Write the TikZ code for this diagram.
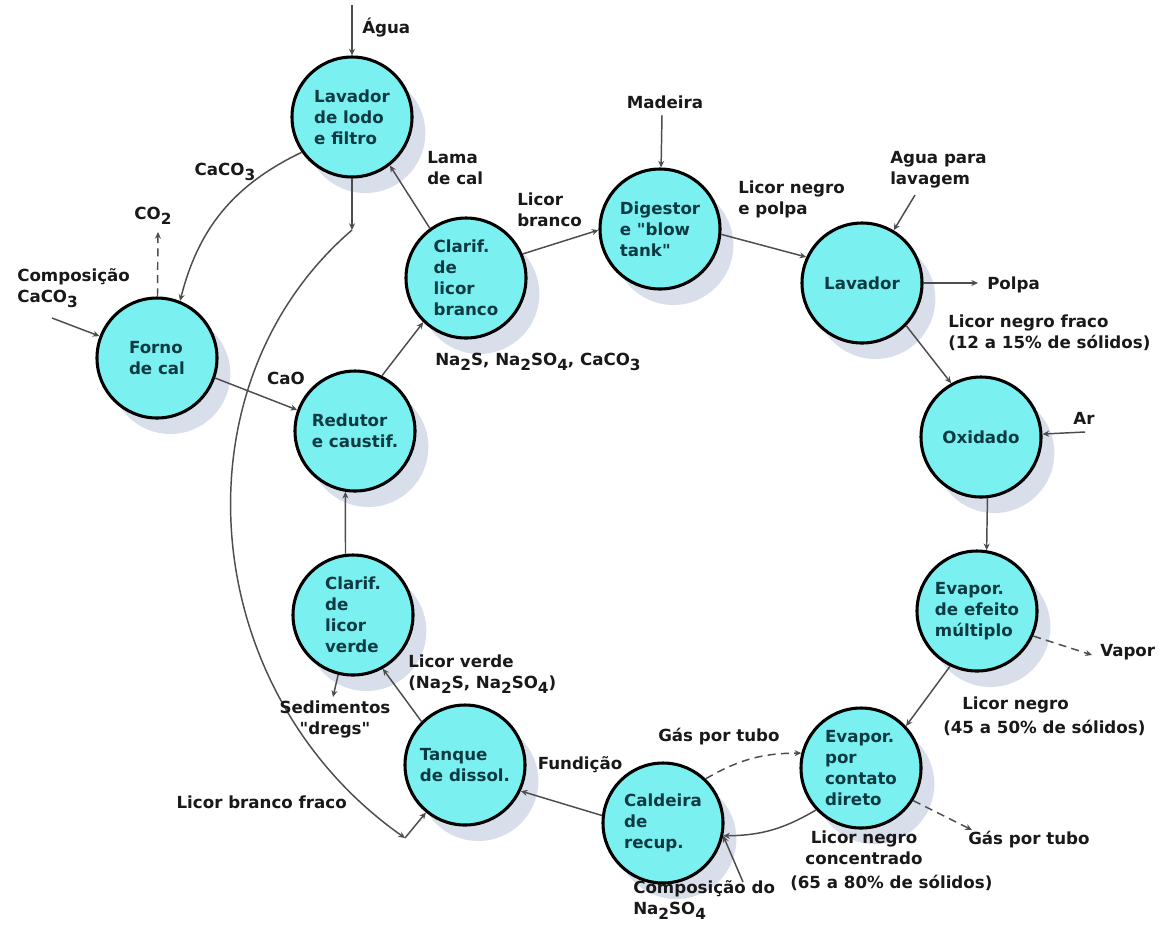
\documentclass[tikz,border=0pt]{standalone}
\usepackage{fontspec}
\setmainfont{DejaVu Sans}[Ligatures=TeXOff]
\usetikzlibrary{arrows.meta,shadows}
\definecolor{fillc}{HTML}{7BF0F0}
\definecolor{shadc}{HTML}{D9DFEA}
\definecolor{ntext}{HTML}{0C3A42}
\definecolor{linec}{HTML}{4D4D4D}
\newcommand\sbx[1]{\raisebox{-0.55ex}{\fontsize{11.5}{12}\selectfont #1}}
\begin{document}
\begin{tikzpicture}[x=0.75pt,y=-0.75pt,
  font=\fontsize{12.5}{15.75}\selectfont\bfseries,
  proc/.style={circle, draw=black, line width=2.3pt, fill=fillc, minimum size=90pt, inner sep=0pt, align=left, text=ntext,
     drop shadow={shadow xshift=10pt, shadow yshift=-12pt, fill=shadc, opacity=1}},
  lbl/.style={text=black!90, inner sep=0pt, align=left},
  arr/.style={draw=linec, line width=1.1pt, -{Stealth[length=5pt,width=4.5pt]}},
  dsh/.style={arr, dash pattern=on 6pt off 4pt}]
\useasboundingbox[fill=white] (0,0) rectangle (1167,926);

% process nodes
\node[proc] (lodo) at (352,117) {Lavador\\de lodo\\e filtro};
\node[proc] (forno) at (157,358) {Forno\\de cal};
\node[proc] (redutor) at (355,431) {Redutor\\e caustif.};
\node[proc] (clarifB) at (466,278) {Clarif.\\de\\licor\\branco};
\node[proc] (digestor) at (660,229) {Digestor\\e "blow\\tank"};
\node[proc] (lavador) at (862,283) {Lavador};
\node[proc] (oxidado) at (981,437) {Oxidado};
\node[proc] (evapM) at (977,611) {Evapor.\\de efeito\\múltiplo};
\node[proc] (evapC) at (861,768) {Evapor.\\por\\contato\\direto};
\node[proc] (caldeira) at (663,823) {Caldeira\\de\\recup.};
\node[proc] (tanque) at (465,765) {Tanque\\de dissol.};
\node[proc] (clarifV) at (353,615) {Clarif.\\de\\licor\\verde};

% free ends
\coordinate (cagua) at (352,5);
\coordinate (cco2) at (158,232);
\coordinate (ccomp) at (52,318);
\coordinate (j1) at (352,230);
\coordinate (j2) at (405,838);
\coordinate (cmad) at (662,115);
\coordinate (cagl) at (915,195);
\coordinate (cpolpa) at (978,283);
\coordinate (car) at (1085,432);
\coordinate (cvap) at (1092,655);
\coordinate (cgas) at (972,830);
\coordinate (cna) at (743,882);
\coordinate (csed) at (333,697);

% connectors
\draw[arr] (cagua) -- (lodo);
\draw[arr] (lodo.215) to[bend right=25] (forno.68);
\draw[dsh] (forno) -- (cco2);
\draw[arr] (ccomp) -- (forno);
\draw[arr] (lodo) -- (j1);
\draw[arr] (j1) .. controls (172,385) and (195,690) .. (j2);
\draw[arr] (j2) -- (tanque);
\draw[arr] (clarifB.126) -- (lodo.308);
\draw[arr] (clarifB.23) -- (digestor.181);
\draw[arr] (cmad) -- (digestor);
\draw[arr] (digestor.-5) -- (lavador.155);
\draw[arr] (cagl) -- (lavador.59);
\draw[arr] (lavador) -- (cpolpa);
\draw[arr] (lavador.-44) -- (oxidado.119);
\draw[arr] (car) -- (oxidado);
\draw[arr] (oxidado.-84) -- (evapM.81);
\draw[dsh] (evapM.-24) -- (cvap);
\draw[arr] (evapM.-116) -- (evapC.43);
\draw[dsh] (caldeira.46) to[bend left=15] (evapC.166);
\draw[dsh] (evapC.-32) -- (cgas);
\draw[arr] (evapC.-137) to[bend left=15] (caldeira.-12);
\draw[arr] (cna) -- (caldeira.-12);
\draw[arr] (caldeira.173) -- (tanque.-25);
\draw[arr] (tanque.135) -- (clarifV.-61);
\draw[arr] (clarifV.-104) -- (csed);
\draw[arr] (clarifV.97) -- (redutor.-99);
\draw[arr] (forno.-19) -- (redutor.160);
\draw[arr] (redutor.64) -- (clarifB.-134);

% labels
\node[lbl, anchor=west] (tagua) at (362,28) {Água};
\node[lbl] (tcaco) at (225,172) {CaCO\sbx{3}};
\node[lbl] (tco2) at (153,216) {CO\sbx{2}};
\node[lbl, anchor=west] (tcomp) at (17,288) {Composição\\CaCO\sbx{3}};
\node[lbl, anchor=west] (tlama) at (427,168) {Lama\\de cal};
\node[lbl, anchor=west] (tlb) at (517,210) {Licor\\branco};
\node[lbl] (tmad) at (665,102) {Madeira};
\node[lbl, anchor=west] (tlnp) at (738,199) {Licor negro\\e polpa};
\node[lbl, anchor=west] (tagl) at (890,170) {Agua para\\lavagem};
\node[lbl, anchor=west] (tpolpa) at (987,285) {Polpa};
\node[lbl, anchor=west] (tlnf) at (948,333) {Licor negro fraco\\(12 a 15\% de sólidos)};
\node[lbl] (tar) at (1084,418) {Ar};
\node[lbl, anchor=west] (tvap) at (1100,652) {Vapor};
\node[lbl, anchor=west] (tln1) at (962,705) {Licor negro};
\node[lbl, anchor=west] (tln2) at (943,728) {(45 a 50\% de sólidos)};
\node[lbl, anchor=west] (tgas1) at (658,737) {Gás por tubo};
\node[lbl, anchor=west] (tgas2) at (968,840) {Gás por tubo};
\node[lbl, align=center] (tlnc) at (864,848) {Licor negro\\concentrado};
\node[lbl, anchor=west] (tlnc3) at (790,883) {(65 a 80\% de sólidos)};
\node[lbl, anchor=west] (tcna) at (633,900) {Composição do\\Na\sbx{2}SO\sbx{4}};
\node[lbl] (tfund) at (580,765) {Fundição};
\node[lbl, anchor=west] (tlv) at (408,674) {Licor verde\\(Na\sbx{2}S, Na\sbx{2}SO\sbx{4})};
\node[lbl, align=center] (tsed) at (335,719) {Sedimentos\\"dregs"};
\node[lbl, anchor=east] (tlbf) at (347,802) {Licor branco fraco};
\node[lbl] (tcao) at (286,378) {CaO};
\node[lbl, anchor=west] (tna) at (435,362) {Na\sbx{2}S, Na\sbx{2}SO\sbx{4}, CaCO\sbx{3}};
\end{tikzpicture}
\end{document}
